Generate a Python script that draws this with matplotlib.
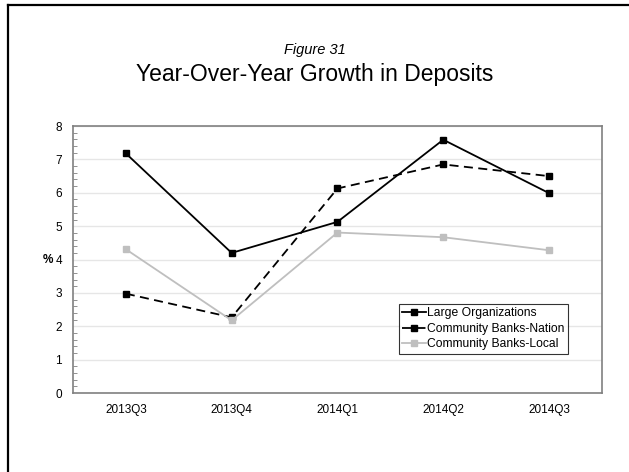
import matplotlib
matplotlib.use("Agg")
import matplotlib.pyplot as plt
from matplotlib.lines import Line2D
from matplotlib.ticker import MultipleLocator

plt.rcParams["font.family"] = ["Liberation Sans", "DejaVu Sans"]

quarters = ["2013Q3", "2013Q4", "2014Q1", "2014Q2", "2014Q3"]
large_orgs = [7.18, 4.20, 5.13, 7.59, 5.99]
cb_nation = [2.98, 2.27, 6.13, 6.85, 6.50]
cb_local = [4.31, 2.18, 4.81, 4.67, 4.28]

fig = plt.figure(figsize=(6.29, 4.72), dpi=100)
ax = fig.add_axes([0.116, 0.167, 0.841, 0.566])

x = range(len(quarters))
ax.plot(x, large_orgs, color="black", lw=1.3, marker="s", ms=3.8,
        label="Large Organizations")
ax.plot(x, cb_nation, color="black", lw=1.3, ls=(0, (5, 3)), marker="s", ms=3.8,
        label="Community Banks-Nation")
ax.plot(x, cb_local, color="#bfbfbf", lw=1.3, marker="s", ms=3.8,
        label="Community Banks-Local")

ax.set_xlim(-0.5, len(quarters) - 0.5)
ax.set_ylim(0, 8)
ax.set_xticks(list(x))
ax.set_xticklabels(quarters)
ax.yaxis.set_major_locator(MultipleLocator(1))
ax.yaxis.set_minor_locator(MultipleLocator(0.2))
ax.grid(axis="y", color="#e6e6e6", lw=1)
ax.set_axisbelow(True)
ax.tick_params(axis="both", which="major", length=0, labelsize=8.5, pad=8)
ax.tick_params(axis="y", which="minor", direction="in", length=3, color="#808080")
for s in ax.spines.values():
    s.set_color("#808080")
    s.set_linewidth(1.2)

ax.set_ylabel("%", rotation=0, fontsize=8.5, fontweight="bold",
              va="center", ha="center")
ax.yaxis.set_label_coords(-0.048, 0.5)

leg = ax.legend(loc="upper left", bbox_to_anchor=(0.616, 0.333), borderaxespad=0,
                fontsize=8.7, handlelength=2.0, handletextpad=0.1,
                borderpad=0.25, labelspacing=0.3, fancybox=False)
leg.get_frame().set_edgecolor("black")
leg.get_frame().set_linewidth(0.8)

fig.text(0.5, 0.895, "Figure 31", ha="center", va="center", fontsize=10.5,
         style="italic")
fig.text(0.5, 0.843, "Year-Over-Year Growth in Deposits", ha="center",
         va="center", fontsize=16.5)

# page border (top and left edges)
fig.add_artist(Line2D([0.013, 1.0], [0.989, 0.989], color="black", lw=1.6,
                      transform=fig.transFigure))
fig.add_artist(Line2D([0.013, 0.013], [0.0, 0.989], color="black", lw=1.6,
                      transform=fig.transFigure))

fig.savefig("out.png", dpi=100)
